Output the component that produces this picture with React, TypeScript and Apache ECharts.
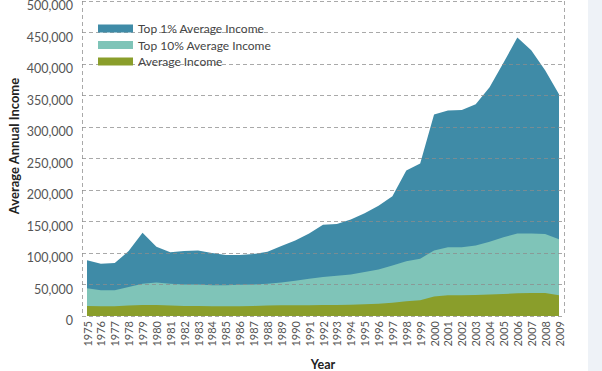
import React, { useEffect, useRef } from "react";
import * as echarts from "echarts";

const years: string[] = [
  "1975","1976","1977","1978","1979","1980","1981","1982","1983","1984",
  "1985","1986","1987","1988","1989","1990","1991","1992","1993","1994",
  "1995","1996","1997","1998","1999","2000","2001","2002","2003","2004",
  "2005","2006","2007","2008","2009",
];

const top1: number[] = [
  88500, 83000, 84000, 103000, 132000, 110000, 101000, 103000, 104000, 100000,
  97000, 97000, 98500, 102000, 111000, 120000, 131000, 145000, 146000, 153000,
  163000, 175000, 190000, 231000, 242000, 320000, 326000, 327000, 336000, 363000,
  402000, 442000, 422000, 390000, 352000,
];

const top10: number[] = [
  44000, 41000, 41000, 46000, 51000, 53000, 51000, 50000, 50000, 49000,
  49000, 49500, 50000, 51000, 53000, 56000, 59000, 62000, 64000, 66000,
  70000, 74000, 80000, 87000, 91000, 104000, 109000, 109000, 112000, 118000,
  125000, 131000, 131000, 130000, 122000,
];

const avgIncome: number[] = [
  16000, 15500, 15500, 16500, 17500, 17500, 16500, 16000, 16000, 15500,
  15500, 15500, 16000, 16500, 17000, 17000, 17000, 17500, 17500, 18000,
  18500, 19500, 21000, 23500, 25000, 31000, 33000, 33000, 33500, 34000,
  35000, 36000, 36500, 36500, 33000,
];

const seriesNames: string[] = ["Top 1% Average Income", "Top 10% Average Income", "Average Income"];
const colors: string[] = ["#3f8ba7", "#7fc4b8", "#8a9e2b"];

export default function App() {
  const ref = useRef<HTMLDivElement>(null);
  useEffect(() => {
    if (!ref.current) return;
    const chart = echarts.init(ref.current, null, { renderer: "svg" });
    const font = "Lato, 'Noto Sans', sans-serif";
    const dash = { type: [4, 3] as any, color: "rgba(140,140,140,0.75)", width: 1 };
    const mk = (name: string, data: number[], color: string) => ({
      name,
      type: "line",
      xAxisIndex: 1,
      yAxisIndex: 1,
      data,
      showSymbol: false,
      symbol: "none",
      lineStyle: { width: 0 },
      itemStyle: { color },
      areaStyle: { color, opacity: 1 },
      z: 2,
    });
    chart.setOption({
      animation: false,
      backgroundColor: "#ffffff",
      textStyle: { fontFamily: font },
      legend: {
        orient: "vertical",
        left: 93,
        top: 17,
        itemWidth: 35,
        itemHeight: 8,
        itemGap: 3.5,
        icon: "rect",
        textStyle: { color: "#444", fontSize: 12, fontFamily: font, lineHeight: 13 },
        data: seriesNames,
      },
      grid: [
        { left: 82, right: 24, top: 1, bottom: 55, outerBoundsMode: "none", containLabel: false },
        { left: 87, right: 29, top: 1, bottom: 55, outerBoundsMode: "none", containLabel: false },
      ],
      xAxis: [
        {
          gridIndex: 0,
          type: "value",
          min: 0,
          max: 1,
          interval: 1,
          axisLine: { show: false },
          axisTick: { show: false },
          axisLabel: { show: false },
          splitLine: { show: true, lineStyle: dash },
          z: 3,
        },
        {
          gridIndex: 1,
          type: "category",
          data: years,
          boundaryGap: false,
          axisLine: { show: false },
          axisTick: { show: false },
          axisLabel: {
            interval: 0,
            rotate: 90,
            margin: 5,
            color: "#555",
            fontSize: 11,
            fontFamily: font,
          },
          name: "Year",
          nameLocation: "middle",
          nameGap: 42,
          nameTextStyle: { fontWeight: "bold", fontSize: 12.5, color: "#222", fontFamily: font },
        },
      ],
      yAxis: [
        {
          gridIndex: 0,
          type: "value",
          min: 0,
          max: 500000,
          interval: 50000,
          axisLine: { show: false },
          axisTick: { show: false },
          axisLabel: {
            color: "#555",
            fontSize: 12.5,
            margin: 9,
            verticalAlign: "top",
            lineHeight: 9,
            fontFamily: font,
            formatter: (v: number) => v.toLocaleString("en-US"),
          },
          splitLine: { show: true, lineStyle: dash },
          z: 3,
        },
        {
          gridIndex: 1,
          type: "value",
          min: 0,
          max: 500000,
          show: false,
          splitLine: { show: false },
        },
      ],
      graphic: [
        {
          type: "text",
          x: 14,
          y: 146,
          rotation: Math.PI / 2,
          style: {
            text: "Average Annual Income",
            fill: "#222",
            font: "bold 13px " + font,
            align: "center",
            verticalAlign: "middle",
          },
        },
      ],
      series: [
        mk(seriesNames[0], top1, colors[0]),
        mk(seriesNames[1], top10, colors[1]),
        mk(seriesNames[2], avgIncome, colors[2]),
      ],
    });
    return () => chart.dispose();
  }, []);
  return (
    <>
      <div
        style={{ position: "absolute", left: 588, top: 0, width: 14, height: 371, background: "#eef2f7" }}
      />
      <div ref={ref} style={{ position: "absolute", left: 0, top: 0, width: 588, height: 371 }} />
    </>
  );
}
